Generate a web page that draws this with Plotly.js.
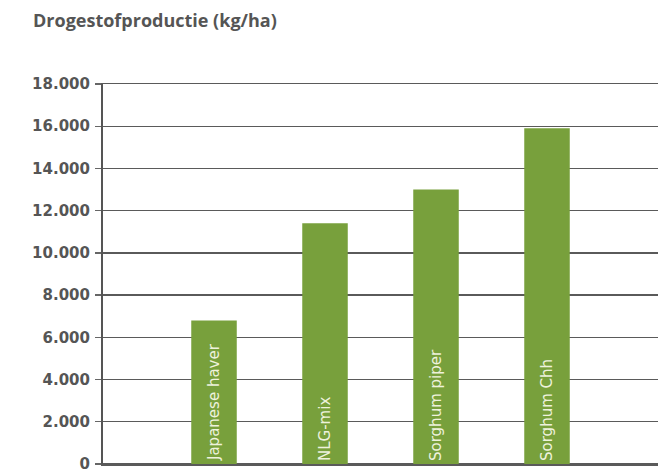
<!DOCTYPE html>
<html>
<head>
<meta charset="utf-8">
<script src="https://cdn.plot.ly/plotly-3.0.1.min.js"></script>
<style>html,body{margin:0;padding:0;background:#fff;overflow:hidden;}#chart{width:662px;height:475px;}</style>
</head>
<body>
<div id="chart"></div>
<script>
const categories = ["Japanese haver", "NLG-mix", "Sorghum piper", "Sorghum Chh"];
const values = [6800, 11400, 13000, 15900];
const tickVals = [0, 2000, 4000, 6000, 8000, 10000, 12000, 14000, 16000, 18000];
const tickLabels = ["0", "2.000", "4.000", "6.000", "8.000", "10.000", "12.000", "14.000", "16.000", "18.000"];
const chartTitle = "Drogestofproductie (kg/ha)";

const trace = {
  type: "bar",
  x: categories,
  y: values,
  width: 0.41,
  marker: {color: "#78a03c", line: {width: 0}},
  text: categories,
  textposition: "inside",
  insidetextanchor: "start",
  textangle: -90,
  textfont: {family: "DejaVu Sans, sans-serif", size: 15, color: "#eef2dc"},
  hoverinfo: "none",
  cliponaxis: false
};

const layout = {
  width: 662, height: 475,
  margin: {l: 103, r: 4, t: 84, b: 11},
  paper_bgcolor: "#fff", plot_bgcolor: "#fff",
  showlegend: false,
  title: {text: "<b>" + chartTitle + "</b>", x: 33/662, xanchor: "left", y: 1 - 21/475, yanchor: "middle",
          font: {family: "Open Sans, sans-serif", size: 18, color: "#555"}},
  bargap: 0.59,
  xaxis: {type: "category", range: [-1, 4], showticklabels: false, showgrid: false, zeroline: false,
          showline: true, mirror: true, linecolor: "#5a5a5a", linewidth: 1.5, ticks: ""},
  yaxis: {range: [0, 18000], tickvals: tickVals, ticktext: tickLabels,
          showgrid: true, gridcolor: "#5a5a5a", gridwidth: 1.4,
          zeroline: true, zerolinecolor: "#5a5a5a", zerolinewidth: 1.5,
          showline: true, linecolor: "#555", linewidth: 2,
          ticks: "outside", ticklen: 6, tickcolor: "#666", tickwidth: 1.3,
          tickfont: {family: "DejaVu Sans, sans-serif", size: 15, color: "#555", weight: "bold"},
          ticklabelstandoff: 2, fixedrange: true}
};

Plotly.newPlot("chart", [trace], layout, {displayModeBar: false, staticPlot: true});
</script>
</body>
</html>
